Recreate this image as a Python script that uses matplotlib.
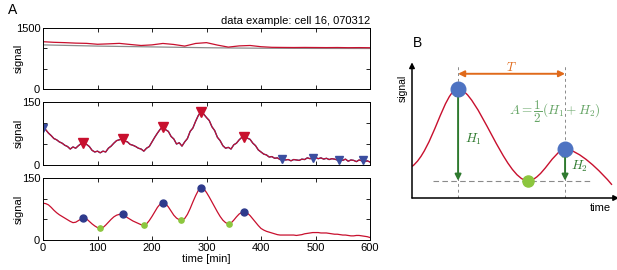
import numpy as np
import matplotlib
matplotlib.use('Agg')
import matplotlib.pyplot as plt
from matplotlib.path import Path
from matplotlib.patches import PathPatch

plt.rcParams['font.family'] = ['Liberation Sans', 'DejaVu Sans']
plt.rcParams['mathtext.fontset'] = 'cm'

# ---- panel A data ----
# top: raw signal (red) and background (gray)
t_raw = [0, 20, 40, 60, 80, 100, 120, 140, 160, 180, 200, 220, 240, 260, 280, 300,
         320, 340, 360, 380, 400, 420, 440, 460, 480, 500, 520, 540, 560, 580, 600]
raw = [1163, 1148, 1140, 1128, 1122, 1100, 1110, 1122, 1095, 1070, 1085, 1120, 1095,
       1055, 1120, 1140, 1080, 1030, 1060, 1070, 1040, 1025, 1022, 1020, 1022, 1020,
       1018, 1020, 1016, 1018, 1015]
t_bg = [0, 50, 100, 150, 200, 250, 300, 350, 400, 450, 500, 550, 600]
bg = [1085, 1070, 1055, 1045, 1035, 1025, 1015, 1008, 1003, 1000, 998, 997, 996]

# middle + bottom: 5 min sampling
t5 = list(range(0, 601, 5))
noisy = [87, 84, 76, 70, 63, 60, 55, 52, 47, 44, 38, 43, 40, 46, 51, 52, 49, 44, 35, 31,
         33, 29, 33, 31, 40, 45, 52, 58, 60, 62, 57, 55, 49, 47, 44, 40, 38, 33, 40, 44,
         55, 66, 76, 85, 91, 84, 80, 68, 62, 50, 53, 45, 55, 63, 80, 88, 104, 118, 127, 121,
         113, 106, 91, 82, 66, 58, 46, 40, 42, 38, 48, 52, 60, 66, 67, 64, 61, 52, 46, 36,
         31, 26, 24, 19, 20, 16, 17, 13, 14, 12, 13, 10, 13, 12, 11, 14, 13, 17, 15, 17,
         18, 15, 17, 14, 16, 13, 15, 14, 12, 13, 11, 14, 9, 12, 11, 8, 12, 10, 8, 10, 7]
smooth = [89, 88, 85, 79, 72, 66, 61, 57, 53, 49, 45, 42, 43, 47, 51, 53, 51, 45, 39, 34,
          30, 28, 30, 36, 43, 50, 56, 60, 62, 62, 59, 54, 50, 46, 43, 40, 37, 36, 39, 47,
          57, 68, 79, 87, 90, 88, 80, 70, 60, 53, 49, 48, 52, 62, 76, 92, 107, 120, 126, 124,
          115, 104, 92, 80, 68, 57, 48, 42, 39, 41, 48, 56, 63, 67, 68, 65, 59, 51, 43, 35,
          28, 24, 21, 19, 17, 15, 13, 12, 12, 12, 12, 12, 12, 11, 12, 13, 15, 16, 17, 18,
          18, 18, 17, 17, 17, 16, 15, 14, 14, 13, 12, 12, 11, 10, 10, 11, 11, 10, 9, 8, 6]

peak_t = [74, 146, 220, 290, 368]
peak_v2 = [52, 62, 91, 127, 67]
peak_v3 = [53, 62, 90, 126, 68]
min_t2 = [0, 438, 496, 543, 587]
min_v2 = [87, 14, 17, 13, 11]
trough_t = [105, 185, 254, 342]
trough_v = [28, 36, 48, 39]

RED = '#c8102e'
NAVY = '#2e3a8c'
LGREEN = '#8cc63e'
FS = 8

fig = plt.figure(figsize=(6.17, 2.70), dpi=100)
W, H = 617.0, 270.0


def ax_px(x0, y0, x1, y1):
    return fig.add_axes([x0 / W, 1 - y1 / H, (x1 - x0) / W, (y1 - y0) / H])


def style(ax, top, lab, show_x):
    ax.set_xlim(0, 600)
    ax.set_ylim(0, top)
    ax.set_xticks(range(0, 601, 100))
    ax.set_yticks(np.linspace(0, top, 4))
    ax.set_yticklabels(['0', '', '', lab])
    if not show_x:
        ax.set_xticklabels([])
    ax.tick_params(direction='in', top=True, right=True, length=3, width=0.6,
                   labelsize=FS, pad=2)
    ax.set_ylabel('signal', fontsize=FS)
    ax.yaxis.set_label_coords(-0.06, 0.5)
    for s in ax.spines.values():
        s.set_linewidth(0.7)


ax1 = ax_px(43, 28, 370, 89)
ax1.plot(t_bg, bg, color='#8c8c8c', lw=0.9)
ax1.plot(t_raw, raw, color=RED, lw=0.9)
style(ax1, 1500, '1500', False)
ax1.set_title('data example: cell 16, 070312', fontsize=FS, loc='right', pad=3)

ax2 = ax_px(43, 102, 370, 165)
ax2.plot(t5, noisy, color=NAVY, lw=1.0)
ax2.plot(t5, noisy, color=RED, lw=0.8)
ax2.plot(peak_t, peak_v2, 'v', color=RED, ms=6.5, mec=RED)
ax2.plot(min_t2, min_v2, 'v', color='#3b4ea0', ms=6, mec='#3b4ea0')
style(ax2, 150, '150', False)

ax3 = ax_px(43, 178, 370, 240)
ax3.plot(t5, smooth, color=RED, lw=0.9)
ax3.plot(peak_t, peak_v3, 'o', color=NAVY, ms=5, mec=NAVY)
ax3.plot(trough_t, trough_v, 'o', color=LGREEN, ms=3.8, mec=LGREEN)
style(ax3, 150, '150', True)
ax3.set_xlabel('time [min]', fontsize=FS, labelpad=1)

fig.text(8 / W, 1 - 10 / H, 'A', fontsize=10, va='center', ha='left')
fig.text(413 / W, 1 - 43 / H, 'B', fontsize=10, va='center', ha='left')

# ---- panel B schematic ----
axb = ax_px(412, 65, 615, 198)
axb.set_xlim(0, 10)
axb.set_ylim(0, 10)
axb.axis('off')

curve_pts = [(0, 2.37), (1.0, 3.5), (1.6, 8.2), (2.27, 8.2),
             (3.2, 8.2), (4.6, 1.3), (5.71, 1.3),
             (6.4, 1.3), (7.0, 3.66), (7.54, 3.66),
             (8.2, 3.66), (9.3, 2.0), (9.85, 0.99)]
codes = [Path.MOVETO] + [Path.CURVE4] * 12
axb.add_patch(PathPatch(Path(curve_pts, codes), fill=False, ec=RED, lw=1.0, zorder=3))

x_p1, y_p1 = 2.27, 8.2
x_tr, y_tr = 5.71, 1.3
x_p2, y_p2 = 7.54, 3.66

for xv in (x_p1, x_p2):
    axb.plot([xv, xv], [0, 10.2], color='#8a8a8a', lw=0.7, ls=(0, (3, 3)), zorder=1)
axb.plot([1.03, 8.77], [y_tr, y_tr], color='#8a8a8a', lw=0.8, ls=(0, (5, 3)), zorder=1)

# axes arrows
axb.annotate('', xy=(0, 10.2), xytext=(0, 0),
             arrowprops=dict(arrowstyle='-|>', color='k', lw=1.1, mutation_scale=8,
                             shrinkA=0, shrinkB=0), annotation_clip=False)
axb.annotate('', xy=(10.2, 0), xytext=(0, 0),
             arrowprops=dict(arrowstyle='-|>', color='k', lw=1.1, mutation_scale=8,
                             shrinkA=0, shrinkB=0), annotation_clip=False)

# period arrow
ORANGE = '#e06a1b'
axb.annotate('', xy=(x_p2, 9.34), xytext=(x_p1, 9.34),
             arrowprops=dict(arrowstyle='<|-|>', color=ORANGE, lw=1.4, mutation_scale=9,
                             shrinkA=0, shrinkB=0))
axb.text(4.91, 9.8, '$T$', color=ORANGE, fontsize=9, ha='center', va='center')

# amplitude arrows
DGREEN = '#2f7a2f'
for xv, yv in ((x_p1, y_p1), (x_p2, y_p2)):
    axb.annotate('', xy=(xv, yv), xytext=(xv, y_tr),
                 arrowprops=dict(arrowstyle='<|-|>', color=DGREEN, lw=1.4,
                                 mutation_scale=9, shrinkA=0, shrinkB=0), zorder=4)
axb.text(2.6, 4.43, '$H_1$', color=DGREEN, fontsize=9.5, ha='left', va='center')
axb.text(7.85, 2.39, '$H_2$', color=DGREEN, fontsize=9.5, ha='left', va='center')
axb.text(7.05, 6.5, r'$A = \dfrac{1}{2}(H_1 + H_2)$', color='#66a566', fontsize=9.5,
         ha='center', va='center')

axb.plot([x_p1, x_p2], [y_p1, y_p2], 'o', color='#4e73c2', ms=10.5, zorder=5, clip_on=False)
axb.plot([x_tr], [y_tr], 'o', color=LGREEN, ms=8, zorder=5)

fig.text(403 / W, 1 - 88 / H, 'signal', fontsize=7.5, rotation=90, ha='center', va='center')
fig.text(600 / W, 1 - 208 / H, 'time', fontsize=FS, ha='center', va='center')

fig.savefig('out.png', dpi=100)
